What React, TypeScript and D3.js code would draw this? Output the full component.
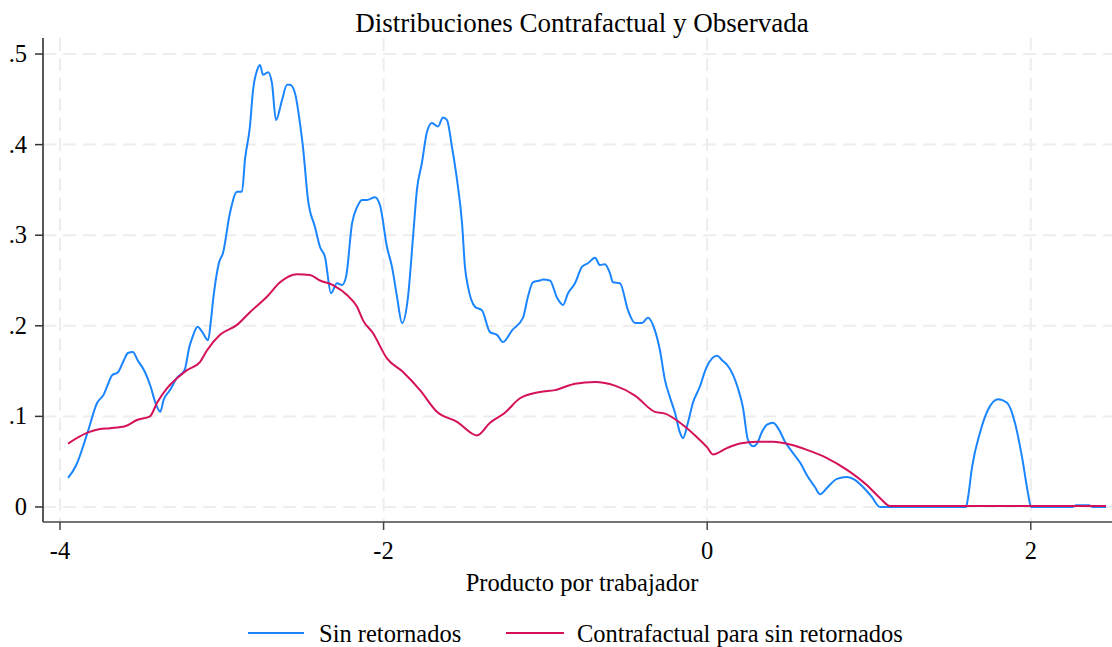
import React from "react";
import * as d3 from "d3";

// Sin retornados (observed density), [x, density]
const sinRetornados: [number, number][] = [
  [-3.95, 0.032], [-3.9, 0.046], [-3.83, 0.082], [-3.77, 0.115], [-3.73, 0.124],
  [-3.7, 0.137], [-3.68, 0.145], [-3.64, 0.149], [-3.61, 0.16], [-3.58, 0.17],
  [-3.55, 0.171], [-3.52, 0.162], [-3.475, 0.149], [-3.44, 0.133], [-3.41, 0.115],
  [-3.38, 0.105], [-3.36, 0.118], [-3.32, 0.129], [-3.28, 0.142], [-3.23, 0.151],
  [-3.2, 0.177], [-3.18, 0.188], [-3.15, 0.199], [-3.12, 0.193], [-3.085, 0.184],
  [-3.067, 0.206], [-3.054, 0.228], [-3.017, 0.27], [-2.993, 0.28], [-2.949, 0.325],
  [-2.906, 0.348], [-2.875, 0.348], [-2.857, 0.383], [-2.826, 0.42], [-2.807, 0.46],
  [-2.782, 0.482], [-2.764, 0.488], [-2.745, 0.477], [-2.714, 0.48], [-2.69, 0.468],
  [-2.665, 0.427], [-2.628, 0.449], [-2.597, 0.466], [-2.578, 0.466], [-2.548, 0.457],
  [-2.517, 0.424], [-2.498, 0.397], [-2.467, 0.339], [-2.424, 0.309], [-2.393, 0.287],
  [-2.362, 0.276], [-2.325, 0.236], [-2.288, 0.247], [-2.257, 0.245], [-2.232, 0.254],
  [-2.195, 0.313], [-2.164, 0.331], [-2.133, 0.339], [-2.103, 0.339], [-2.053, 0.342],
  [-2.022, 0.333], [-1.979, 0.287], [-1.948, 0.265], [-1.917, 0.232], [-1.886, 0.203],
  [-1.849, 0.232], [-1.818, 0.298], [-1.794, 0.35], [-1.763, 0.38], [-1.732, 0.414],
  [-1.701, 0.424], [-1.664, 0.42], [-1.633, 0.43], [-1.608, 0.427], [-1.577, 0.397],
  [-1.546, 0.361], [-1.515, 0.313], [-1.497, 0.265], [-1.478, 0.243], [-1.435, 0.221],
  [-1.392, 0.217], [-1.342, 0.193], [-1.299, 0.19], [-1.262, 0.182], [-1.206, 0.195],
  [-1.138, 0.209], [-1.108, 0.232], [-1.077, 0.248], [-1.033, 0.25], [-1.015, 0.251],
  [-0.972, 0.25], [-0.928, 0.231], [-0.891, 0.223], [-0.86, 0.236], [-0.817, 0.247],
  [-0.774, 0.265], [-0.737, 0.269], [-0.693, 0.275], [-0.663, 0.267], [-0.632, 0.268],
  [-0.601, 0.258], [-0.582, 0.248], [-0.539, 0.247], [-0.489, 0.217], [-0.446, 0.203],
  [-0.403, 0.203], [-0.366, 0.209], [-0.323, 0.195], [-0.292, 0.173], [-0.261, 0.14],
  [-0.23, 0.121], [-0.199, 0.104], [-0.168, 0.082], [-0.15, 0.076], [-0.119, 0.093],
  [-0.088, 0.115], [-0.045, 0.133], [-0.007, 0.153], [0.03, 0.164], [0.061, 0.167],
  [0.092, 0.162], [0.122, 0.157], [0.159, 0.146], [0.19, 0.131], [0.221, 0.11],
  [0.252, 0.074], [0.283, 0.067], [0.308, 0.07], [0.339, 0.083], [0.37, 0.091],
  [0.407, 0.093], [0.438, 0.087], [0.481, 0.072], [0.524, 0.061], [0.574, 0.049],
  [0.623, 0.033], [0.666, 0.022], [0.697, 0.014], [0.74, 0.021], [0.802, 0.031],
  [0.864, 0.033], [0.913, 0.03], [0.963, 0.022], [1.018, 0.011], [1.068, 0.0],
  [1.3, 0.0], [1.6, 0.0], [1.61, 0.008], [1.637, 0.044], [1.686, 0.082],
  [1.735, 0.107], [1.797, 0.119], [1.853, 0.115], [1.902, 0.093], [1.946, 0.055],
  [1.983, 0.015], [2.001, 0.0], [2.26, 0.0], [2.28, 0.002], [2.36, 0.002],
  [2.38, 0.0], [2.465, 0.0],
];

// Contrafactual para sin retornados, [x, density]
const contrafactual: [number, number][] = [
  [-3.95, 0.07], [-3.83, 0.082], [-3.753, 0.086], [-3.691, 0.087], [-3.598, 0.089],
  [-3.524, 0.096], [-3.444, 0.1], [-3.4, 0.115], [-3.339, 0.131], [-3.277, 0.142],
  [-3.215, 0.151], [-3.135, 0.16], [-3.091, 0.173], [-3.011, 0.19], [-2.906, 0.201],
  [-2.826, 0.215], [-2.721, 0.232], [-2.64, 0.248], [-2.535, 0.257], [-2.455, 0.256],
  [-2.393, 0.25], [-2.313, 0.245], [-2.226, 0.234], [-2.164, 0.221], [-2.127, 0.206],
  [-2.066, 0.192], [-1.979, 0.164], [-1.88, 0.149], [-1.775, 0.129], [-1.67, 0.105],
  [-1.546, 0.094], [-1.423, 0.079], [-1.342, 0.093], [-1.25, 0.104], [-1.157, 0.12],
  [-1.033, 0.127], [-0.941, 0.129], [-0.817, 0.136], [-0.693, 0.138], [-0.57, 0.134],
  [-0.446, 0.123], [-0.323, 0.105], [-0.26, 0.103], [-0.168, 0.093], [-0.063, 0.077],
  [-0.001, 0.066], [0.036, 0.058], [0.122, 0.065], [0.203, 0.07], [0.308, 0.072],
  [0.407, 0.072], [0.512, 0.069], [0.617, 0.063], [0.74, 0.054], [0.864, 0.041],
  [0.988, 0.024], [1.068, 0.01], [1.13, 0.001], [2.465, 0.001],
];

const xTicks = [-4, -2, 0, 2];
const xTickLabels = ["-4", "-2", "0", "2"];
const yTicks = [0, 0.1, 0.2, 0.3, 0.4, 0.5];
const yTickLabels = ["0", ".1", ".2", ".3", ".4", ".5"];

const W = 1112;
const H = 647;
const left = 43;
const right = 1112;
const top = 38;
const bottom = 522;
const font = "'Liberation Serif', 'Times New Roman', serif";
const blue = "#1a85ff";
const red = "#d41159";
const fs = 24.5;

export default function App() {
  const x = d3.scaleLinear().domain([-4.105, 2.502]).range([left, right]);
  const y = d3.scaleLinear().domain([-0.0166, 0.5177]).range([bottom, top]);
  const line = d3
    .line<[number, number]>()
    .x((d) => x(d[0]))
    .y((d) => y(d[1]))
    .curve(d3.curveMonotoneX);

  return (
    <svg
      width={W}
      height={H}
      style={{ position: "absolute", left: 0, top: 0, background: "#fff" }}
      fontFamily={font}
    >
      {/* grid */}
      {yTicks.map((t) => (
        <line key={"gy" + t} x1={left} x2={right} y1={y(t)} y2={y(t)}
          stroke="#ededed" strokeWidth={2} strokeDasharray="13,7" />
      ))}
      {xTicks.map((t) => (
        <line key={"gx" + t} x1={x(t)} x2={x(t)} y1={top} y2={bottom}
          stroke="#ededed" strokeWidth={2} strokeDasharray="13,7" />
      ))}

      {/* series */}
      <path d={line(sinRetornados) || ""} fill="none" stroke={blue} strokeWidth={2} />
      <path d={line(contrafactual) || ""} fill="none" stroke={red} strokeWidth={2} />

      {/* axes */}
      <line x1={left} x2={left} y1={top} y2={bottom} stroke="#222" strokeWidth={1.5} />
      <line x1={left} x2={right} y1={bottom} y2={bottom} stroke="#444" strokeWidth={1.5} />
      {yTicks.map((t, i) => (
        <g key={"ty" + t}>
          <line x1={left - 8} x2={left} y1={y(t)} y2={y(t)} stroke="#333" strokeWidth={1.5} />
          <text x={27} y={y(t) + 8} textAnchor="end" fontSize={fs} fill="#000">
            {yTickLabels[i]}
          </text>
        </g>
      ))}
      {xTicks.map((t, i) => (
        <g key={"tx" + t}>
          <line x1={x(t)} x2={x(t)} y1={bottom} y2={bottom + 8} stroke="#444" strokeWidth={1.5} />
          <text x={x(t)} y={559} textAnchor="middle" fontSize={fs} fill="#000">
            {xTickLabels[i]}
          </text>
        </g>
      ))}

      {/* titles */}
      <text x={582} y={32} textAnchor="middle" fontSize={27} fill="#000">
        Distribuciones Contrafactual y Observada
      </text>
      <text x={582} y={591} textAnchor="middle" fontSize={fs} fill="#000">
        Producto por trabajador
      </text>

      {/* legend */}
      <line x1={248} x2={304} y1={633} y2={633} stroke={blue} strokeWidth={2} />
      <text x={319} y={642} fontSize={fs} fill="#000">Sin retornados</text>
      <line x1={506} x2={564} y1={633} y2={633} stroke={red} strokeWidth={2} />
      <text x={577} y={642} fontSize={fs} fill="#000">Contrafactual para sin retornados</text>
    </svg>
  );
}
